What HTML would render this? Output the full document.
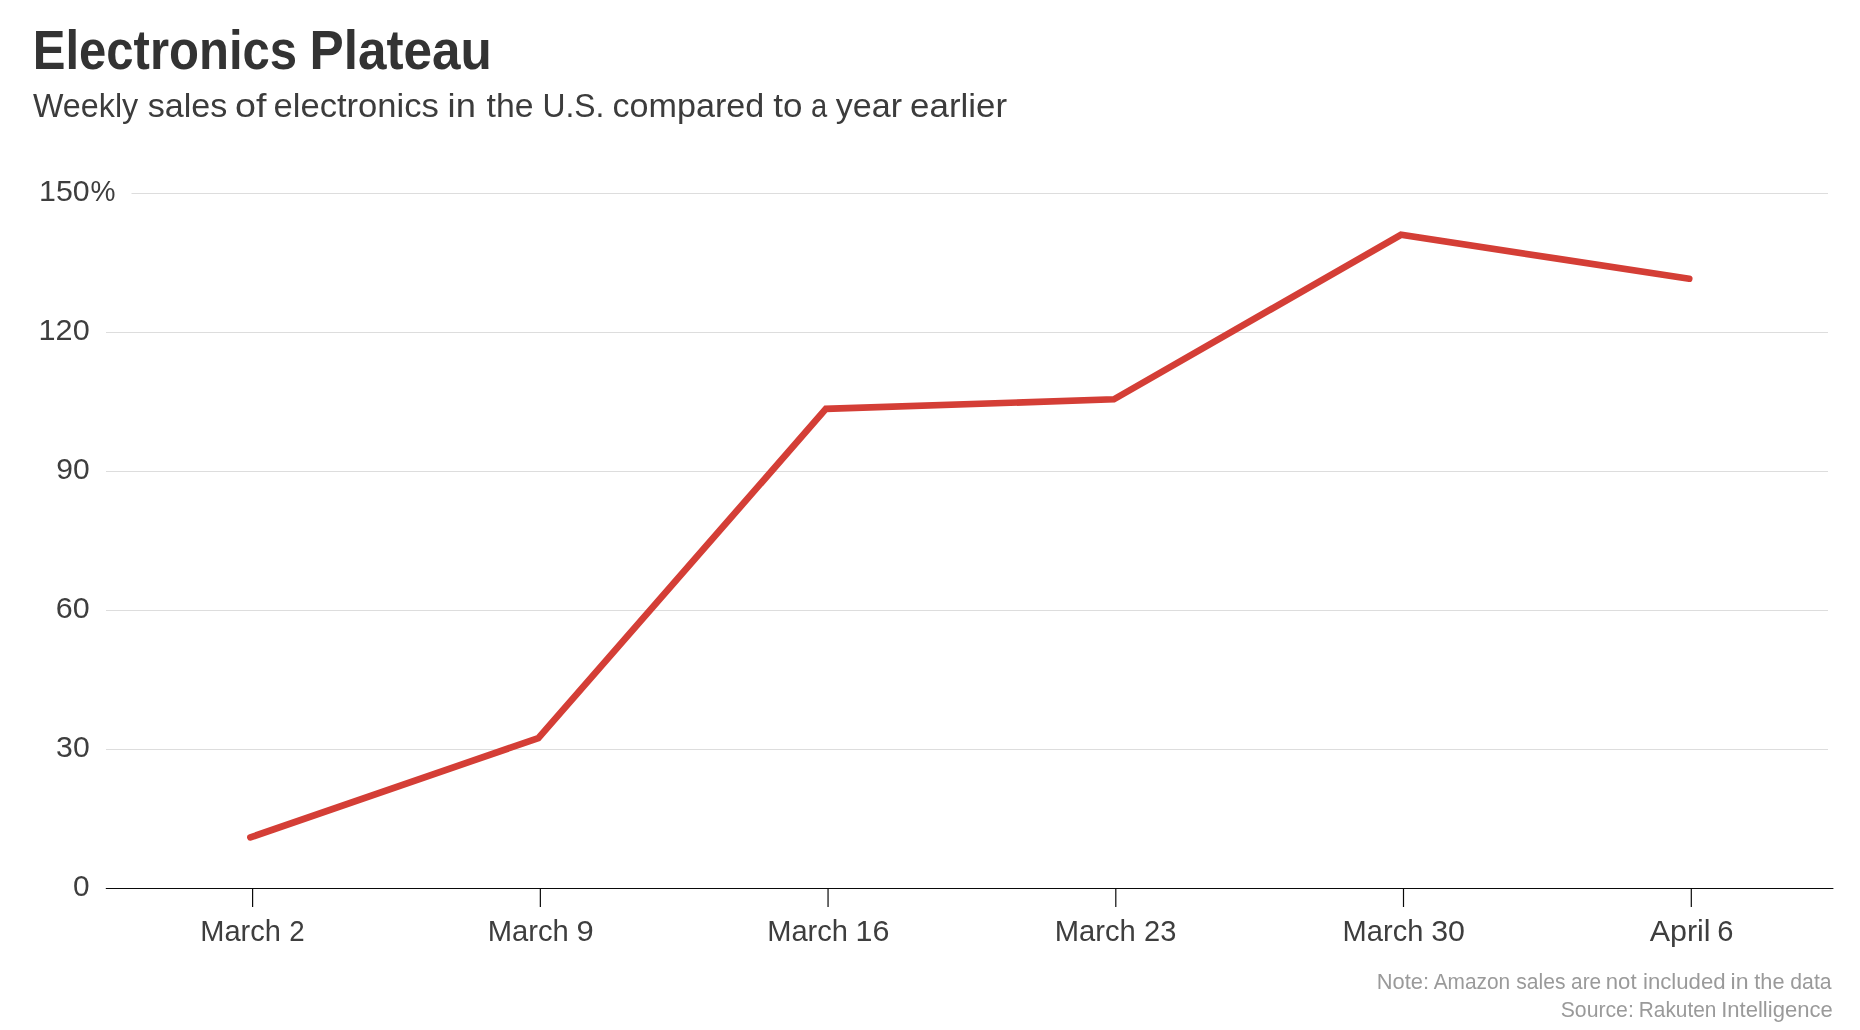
<!DOCTYPE html>
<html lang="en">
<head>
<meta charset="utf-8">
<title>Electronics Plateau</title>
<style>
  html, body { margin: 0; padding: 0; background: #ffffff; }
  body { width: 1860px; height: 1030px; overflow: hidden; }
  svg { display: block; will-change: transform; }
  text { font-family: "Liberation Sans", Arial, Helvetica, sans-serif; }
  .title { font-weight: bold; font-size: 55.5px; fill: #333333; }
  .sub { font-size: 33px; fill: #3c3c3c; }
  .lab { font-size: 29.5px; fill: #3e3e3e; }
  .note { font-size: 21.2px; fill: #9a9a9a; }
  .grid { stroke: #dddddd; stroke-width: 1.15; }
  .axis { stroke: #0a0a0a; stroke-width: 1.2; }
</style>
</head>
<body>
<svg width="1860" height="1030" viewBox="0 0 1860 1030">
  <rect x="0" y="0" width="1860" height="1030" fill="#ffffff"/>


  <!-- gridlines -->
  <g class="grid">
    <line x1="131.5" y1="193.5" x2="1828" y2="193.5"/>
    <line x1="106" y1="332.5" x2="1828" y2="332.5"/>
    <line x1="106" y1="471.5" x2="1828" y2="471.5"/>
    <line x1="106" y1="610.5" x2="1828" y2="610.5"/>
    <line x1="106" y1="749.5" x2="1828" y2="749.5"/>
  </g>

  <!-- data line -->
  <polyline fill="none" stroke="#d43e36" stroke-width="6.7" stroke-linecap="round" stroke-linejoin="miter"
    points="250.4,837.4 538.3,738.1 825.9,408.9 1113.9,399.3 1401.0,234.8 1689.2,278.7"/>

  <!-- baseline axis + ticks -->
  <g class="axis">
    <line x1="105.8" y1="888.5" x2="1833.4" y2="888.5"/>
    <line x1="252.6" y1="888.5" x2="252.6" y2="907"/>
    <line x1="540.35" y1="888.5" x2="540.35" y2="907"/>
    <line x1="828.05" y1="888.5" x2="828.05" y2="907"/>
    <line x1="1115.8" y1="888.5" x2="1115.8" y2="907"/>
    <line x1="1403.5" y1="888.5" x2="1403.5" y2="907"/>
    <line x1="1691.3" y1="888.5" x2="1691.3" y2="907"/>
  </g>

  <!-- text -->
  <text class="title" y="69.2"><tspan x="32.7" textLength="264.4" lengthAdjust="spacingAndGlyphs">Electronics</tspan> <tspan x="309.6" textLength="182.3" lengthAdjust="spacingAndGlyphs">Plateau</tspan></text>
  <text class="sub" y="117"><tspan x="33" textLength="105.2" lengthAdjust="spacingAndGlyphs">Weekly</tspan> <tspan x="147.7" textLength="79.6" lengthAdjust="spacingAndGlyphs">sales</tspan> <tspan x="235" textLength="31.4" lengthAdjust="spacingAndGlyphs">of</tspan> <tspan x="273.5" textLength="165.4" lengthAdjust="spacingAndGlyphs">electronics</tspan> <tspan x="447.6" textLength="28.3" lengthAdjust="spacingAndGlyphs">in</tspan> <tspan x="486.5" textLength="47" lengthAdjust="spacingAndGlyphs">the</tspan> <tspan x="542.5" textLength="61.9" lengthAdjust="spacingAndGlyphs">U.S.</tspan> <tspan x="612.5" textLength="151.8" lengthAdjust="spacingAndGlyphs">compared</tspan> <tspan x="773.3" textLength="29.2" lengthAdjust="spacingAndGlyphs">to</tspan> <tspan x="810.9" textLength="16.2" lengthAdjust="spacingAndGlyphs">a</tspan> <tspan x="835.8" textLength="66.3" lengthAdjust="spacingAndGlyphs">year</tspan> <tspan x="910.1" textLength="97" lengthAdjust="spacingAndGlyphs">earlier</tspan></text>
  <text class="lab" y="200.6"><tspan x="39.1" textLength="50.6" lengthAdjust="spacingAndGlyphs">150</tspan> <tspan x="90.6" textLength="25" lengthAdjust="spacingAndGlyphs">%</tspan></text>
  <text class="lab" y="339.6"><tspan x="38.6" textLength="51.1" lengthAdjust="spacingAndGlyphs">120</tspan></text>
  <text class="lab" y="478.6"><tspan x="56.2" textLength="33.4" lengthAdjust="spacingAndGlyphs">90</tspan></text>
  <text class="lab" y="617.6"><tspan x="55.8" textLength="33.9" lengthAdjust="spacingAndGlyphs">60</tspan></text>
  <text class="lab" y="756.6"><tspan x="56.1" textLength="33.6" lengthAdjust="spacingAndGlyphs">30</tspan></text>
  <text class="lab" y="895.6"><tspan x="73" textLength="16.6" lengthAdjust="spacingAndGlyphs">0</tspan></text>
  <text class="lab" y="940.8"><tspan x="200.2" textLength="80.7" lengthAdjust="spacingAndGlyphs">March</tspan> <tspan x="289.2" textLength="15.4" lengthAdjust="spacingAndGlyphs">2</tspan></text>
  <text class="lab" y="940.8"><tspan x="487.7" textLength="81.1" lengthAdjust="spacingAndGlyphs">March</tspan> <tspan x="576.6" textLength="17.2" lengthAdjust="spacingAndGlyphs">9</tspan></text>
  <text class="lab" y="940.8"><tspan x="767.2" textLength="80.8" lengthAdjust="spacingAndGlyphs">March</tspan> <tspan x="855.6" textLength="33.9" lengthAdjust="spacingAndGlyphs">16</tspan></text>
  <text class="lab" y="940.8"><tspan x="1054.7" textLength="81.1" lengthAdjust="spacingAndGlyphs">March</tspan> <tspan x="1144.1" textLength="32.3" lengthAdjust="spacingAndGlyphs">23</tspan></text>
  <text class="lab" y="940.8"><tspan x="1342.6" textLength="80.8" lengthAdjust="spacingAndGlyphs">March</tspan> <tspan x="1431.2" textLength="33.8" lengthAdjust="spacingAndGlyphs">30</tspan></text>
  <text class="lab" y="940.8"><tspan x="1649.7" textLength="60.9" lengthAdjust="spacingAndGlyphs">April</tspan> <tspan x="1717.3" textLength="16.2" lengthAdjust="spacingAndGlyphs">6</tspan></text>
  <text class="note" y="988.9"><tspan x="1376.8" textLength="52.3" lengthAdjust="spacingAndGlyphs">Note:</tspan> <tspan x="1433.7" textLength="76.5" lengthAdjust="spacingAndGlyphs">Amazon</tspan> <tspan x="1516.3" textLength="49.2" lengthAdjust="spacingAndGlyphs">sales</tspan> <tspan x="1571.1" textLength="30.1" lengthAdjust="spacingAndGlyphs">are</tspan> <tspan x="1605.8" textLength="30.8" lengthAdjust="spacingAndGlyphs">not</tspan> <tspan x="1643" textLength="82.6" lengthAdjust="spacingAndGlyphs">included</tspan> <tspan x="1730.6" textLength="18" lengthAdjust="spacingAndGlyphs">in</tspan> <tspan x="1754.3" textLength="30.2" lengthAdjust="spacingAndGlyphs">the</tspan> <tspan x="1790.3" textLength="41.3" lengthAdjust="spacingAndGlyphs">data</tspan></text>
  <text class="note" y="1016.8"><tspan x="1560.7" textLength="73.1" lengthAdjust="spacingAndGlyphs">Source:</tspan> <tspan x="1638.8" textLength="77.6" lengthAdjust="spacingAndGlyphs">Rakuten</tspan> <tspan x="1721.2" textLength="111.5" lengthAdjust="spacingAndGlyphs">Intelligence</tspan></text>
</svg>
</body>
</html>
